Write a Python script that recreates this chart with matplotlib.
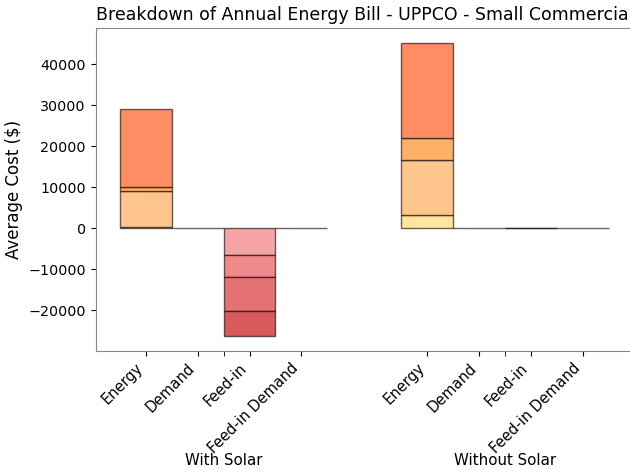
import matplotlib
matplotlib.use("Agg")
import matplotlib.pyplot as plt
import numpy as np

title = "Breakdown of Annual Energy Bill - UPPCO - Small Commercial"
groups = ["With Solar", "Without Solar"]
categories = ["Energy", "Demand", "Feed-in", "Feed-in Demand"]

# stacked layers (bottom -> top)
energy_colors = ["#FFE4A0", "#FEC68D", "#FDB068", "#FF8C63"]
feedin_colors = ["#F5A5A5", "#F08A8A", "#E57373", "#D95B5B"]

with_energy = [250, 8850, 950, 18950]
with_demand = [0]
with_feedin = [-6500, -5450, -8220, -6100]
with_feedin_demand = [0]

without_energy = [3240, 13420, 5290, 23320]
without_demand = [0]
without_feedin = [0, 0]
without_feedin_demand = [0]

fig = plt.figure(figsize=(6.3, 4.72), dpi=100)
ax = fig.add_axes([0.1516, 0.257, 1.0052 - 0.1516, 0.9407 - 0.257])

edge = (0, 0, 0, 0.6)


def stack(x, vals, colors):
    bottom = 0.0
    for v, c in zip(vals, colors):
        ax.bar(x, v, width=1.0, bottom=bottom, color=c, edgecolor=edge, linewidth=1.0)
        bottom += v


group_offsets = [0.0, 5.43]
data = [
    [with_energy, with_demand, with_feedin, with_feedin_demand],
    [without_energy, without_demand, without_feedin, without_feedin_demand],
]
palettes = [energy_colors, energy_colors, feedin_colors, feedin_colors]

major_pos, major_lab, minor_pos = [], [], []
for g, off in enumerate(group_offsets):
    for i, cat in enumerate(categories):
        x = off + i
        stack(x, data[g][i], palettes[i])
        major_pos.append(x)
        major_lab.append(cat)
    minor_pos.append(off + 1.5)

ax.set_xticks(major_pos)
ax.set_xticklabels(major_lab, rotation=45, ha="right", fontsize=10.5)
ax.set_xticks(minor_pos, minor=True)
ax.set_xticklabels(groups, minor=True, fontsize=10.8)
ax.tick_params(axis="x", which="minor", length=3.5, pad=70)
ax.tick_params(axis="y", labelsize=10.3)

ax.set_ylabel("Average Cost ($)", fontsize=12)
ax.set_title(title, fontsize=12.5)

for s in ax.spines.values():
    s.set_color("#888888")

fig.savefig("out.png", dpi=100)
